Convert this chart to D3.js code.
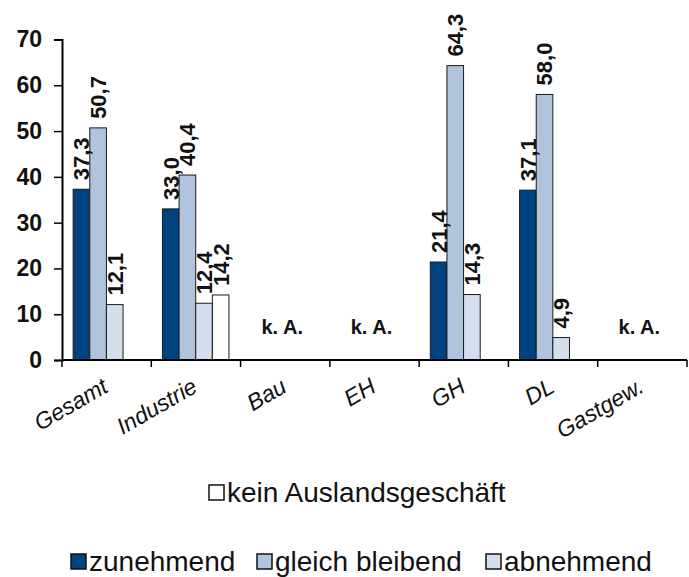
<!DOCTYPE html>
<html>
<head>
<meta charset="utf-8">
<script src="https://cdn.jsdelivr.net/npm/d3@7/dist/d3.min.js"></script>
<style>
  html, body { margin: 0; padding: 0; background: #fff; }
  svg { display: block; font-family: "Liberation Sans", Arial, sans-serif; }
</style>
</head>
<body>
<svg id="chart" width="689" height="577"></svg>
<script>
// Branchen (x-axis categories)
const categories = ["Gesamt", "Industrie", "Bau", "EH", "GH", "DL", "Gastgew."];
// Series names (legend order)
const seriesNames = ["zunehmend", "gleich bleibend", "abnehmend", "kein Auslandsgeschäft"];
// Shares in percent per series; null = no bar
const zunehmend      = [37.3, 33.0, null, null, 21.4, 37.1, null];
const gleichBleibend = [50.7, 40.4, null, null, 64.3, 58.0, null];
const abnehmend      = [12.1, 12.4, null, null, 14.3,  4.9, null];
const keinAusland    = [null, 14.2, null, null, null, null, null];
// Categories without data
const keineAngabe = [false, false, true, true, false, false, true];
// Y-axis ticks
const yTicks = [0, 10, 20, 30, 40, 50, 60, 70];

const seriesValues = [zunehmend, gleichBleibend, abnehmend, keinAusland];
const colors = ["#00427f", "#b0c4de", "#d5deec", "#ffffff"];

const svg = d3.select("#chart");
const plotLeft = 62, plotRight = 687, plotTop = 39.5, plotBottom = 360;

const x0 = d3.scaleBand().domain(categories).range([plotLeft, plotRight]).padding(0);
const x1 = d3.scaleBand().domain(d3.range(4))
  .range([x0.bandwidth() * 0.125, x0.bandwidth() * 0.87]).padding(0);
const y = d3.scaleLinear().domain([0, 70]).range([plotBottom, plotTop]);

const fmt = v => v.toFixed(1).replace(".", ",");

// Bars
const bars = [];
categories.forEach((c, ci) => {
  seriesValues.forEach((vals, si) => {
    if (vals[ci] != null) bars.push({ c, si, v: vals[ci] });
  });
});

const g = svg.append("g");
g.selectAll("rect.bar").data(bars).join("rect")
  .attr("class", "bar")
  .attr("x", d => x0(d.c) + x1(d.si))
  .attr("y", d => y(d.v))
  .attr("width", x1.bandwidth())
  .attr("height", d => y(0) - y(d.v))
  .attr("fill", d => colors[d.si])
  .attr("stroke", "#1a1a1a")
  .attr("stroke-width", 1);

// Value labels, rotated
g.selectAll("text.val").data(bars).join("text")
  .attr("class", "val")
  .attr("transform", d => `translate(${x0(d.c) + x1(d.si) + x1.bandwidth() / 2},${y(d.v) - 9}) rotate(-90)`)
  .attr("dy", "0.36em")
  .attr("text-anchor", "start")
  .attr("font-size", 22)
  .attr("font-weight", "bold")
  .attr("fill", "#111")
  .text(d => fmt(d.v));

// "k. A." markers
g.selectAll("text.ka").data(categories.filter((c, i) => keineAngabe[i])).join("text")
  .attr("class", "ka")
  .attr("x", c => x0(c) + x0.bandwidth() / 2 - 3)
  .attr("y", 334)
  .attr("text-anchor", "middle")
  .attr("font-size", 20)
  .attr("font-weight", "bold")
  .attr("fill", "#111")
  .text("k. A.");

// Y axis
const yAxis = svg.append("g")
  .attr("transform", `translate(${plotLeft},0)`)
  .call(d3.axisLeft(y).tickValues(yTicks).tickSize(8).tickPadding(12).tickFormat(d3.format("d")));
yAxis.select(".domain").attr("stroke", "#000").attr("stroke-width", 2);
yAxis.selectAll(".tick line").attr("stroke", "#000").attr("stroke-width", 1.5);
yAxis.selectAll(".tick text")
  .attr("font-size", 23).attr("font-weight", "bold").attr("fill", "#111")
  .attr("font-family", "'Liberation Sans', Arial, sans-serif");

// X axis with ticks at category boundaries
const xAxisG = svg.append("g");
xAxisG.append("line")
  .attr("x1", plotLeft).attr("x2", plotRight).attr("y1", y(0)).attr("y2", y(0))
  .attr("stroke", "#000").attr("stroke-width", 2);
const boundaries = categories.map(c => x0(c)).concat([plotRight]);
xAxisG.selectAll("line.tk").data(boundaries).join("line")
  .attr("class", "tk")
  .attr("x1", d => d).attr("x2", d => d)
  .attr("y1", y(0)).attr("y2", y(0) + 7)
  .attr("stroke", "#000").attr("stroke-width", 1.5);

// Category labels
xAxisG.selectAll("text.cat").data(categories).join("text")
  .attr("class", "cat")
  .attr("transform", c => `translate(${x0(c) + x0.bandwidth() / 2 + 3},${391}) rotate(-30)`)
  .attr("text-anchor", "end")
  .attr("font-size", 23)
  .attr("font-style", "italic")
  .attr("fill", "#111")
  .text(c => c);

// Legend
const legendFont = 28;
function legendItem(parent, x, yBase, color, label) {
  const it = parent.append("g");
  it.append("rect")
    .attr("x", x).attr("y", yBase - 17).attr("width", 15).attr("height", 15)
    .attr("fill", color).attr("stroke", "#111").attr("stroke-width", 1.5);
  it.append("text")
    .attr("x", x + 18).attr("y", yBase)
    .attr("font-size", legendFont)
    .attr("fill", "#111")
    .text(label);
}
const legend = svg.append("g");
legendItem(legend, 209, 502, colors[3], seriesNames[3]);
legendItem(legend, 71, 571, colors[0], seriesNames[0]);
legendItem(legend, 257, 571, colors[1], seriesNames[1]);
legendItem(legend, 486, 571, colors[2], seriesNames[2]);
</script>
</body>
</html>
